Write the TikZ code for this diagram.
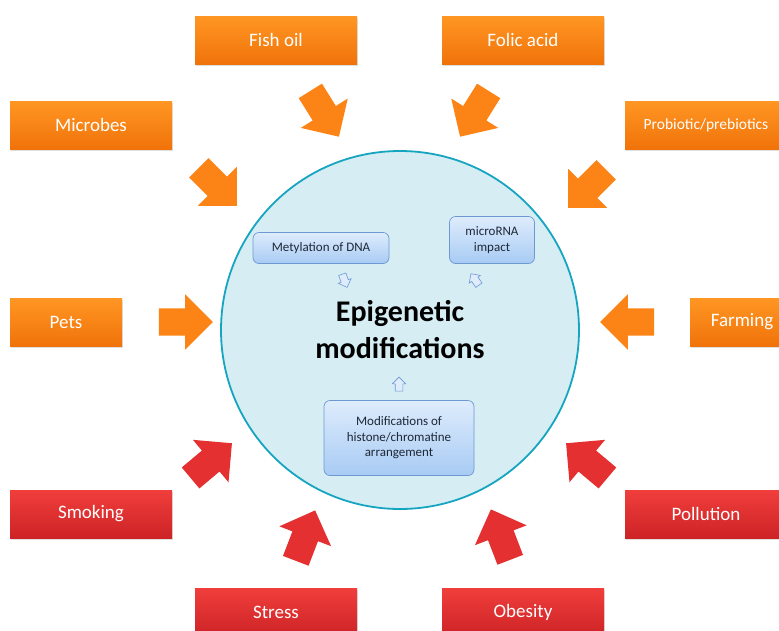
\documentclass[tikz,border=0pt]{standalone}
\usepackage{fontspec}
\setmainfont{Carlito}
\usetikzlibrary{shapes.arrows,shadows}
\definecolor{orangetop}{RGB}{255,150,35}
\definecolor{orangebot}{RGB}{240,115,10}
\definecolor{orangearr}{RGB}{252,132,22}
\definecolor{redtop}{RGB}{240,62,60}
\definecolor{redbot}{RGB}{205,35,38}
\definecolor{redarr}{RGB}{228,48,48}
\definecolor{cellfill}{RGB}{214,237,244}
\definecolor{cellline}{RGB}{22,165,192}
\definecolor{stagetop}{RGB}{222,236,252}
\definecolor{stagebot}{RGB}{168,203,244}
\definecolor{stageline}{RGB}{110,152,210}
\definecolor{stagetext}{RGB}{30,40,55}
\tikzset{
  factor/.style={minimum width=162pt, minimum height=48pt, inner sep=0pt, text=white,
    font=\fontsize{19}{23}\selectfont,
    drop shadow={opacity=0.25, shadow xshift=1pt, shadow yshift=-2pt}},
  good/.style={factor, top color=orangetop, bottom color=orangebot},
  bad/.style={factor, top color=redtop, bottom color=redbot},
  push/.style={single arrow, minimum height=54pt, inner sep=13.5pt, single arrow head extend=14pt},
  goodpush/.style={push, fill=orangearr},
  badpush/.style={push, fill=redarr},
  stage/.style={rounded corners=6pt, draw=stageline, line width=0.7pt, top color=stagetop,
    bottom color=stagebot, text=stagetext, align=center, inner sep=0pt,
    font=\fontsize{13}{15.5}\selectfont},
  nudge/.style={single arrow, draw=stageline, fill=stagetop, line width=0.6pt, minimum height=14pt,
    inner sep=3.5pt, single arrow head extend=3pt}
}
\begin{document}
\begin{tikzpicture}[x=1pt, y=-1pt]
  \useasboundingbox (0,0) rectangle (779,630);
  \node[circle, draw=cellline, line width=1.8pt, fill=cellfill, minimum size=358pt, align=center,
    font=\fontsize{30}{37}\selectfont\bfseries] (epi) at (400,330) {Epigenetic\\modifications};
  \node[stage, minimum width=136pt, minimum height=31pt] (methyl) at (321,248) {Metylation of DNA};
  \node[stage, minimum width=85pt, minimum height=47pt] (micro) at (492,240) {microRNA\\impact};
  \node[stage, minimum width=150pt, minimum height=75pt] (histone) at (399,438) {Modifications of\\histone/chromatine\\arrangement};
  \node[nudge, rotate=-70] (methylarr) at (344,279) {};
  \node[nudge, rotate=125] (microarr) at (476,281) {};
  \node[nudge, rotate=90] (histonearr) at (399,386) {};
  \node[good] (fishoil) at (276,40) {Fish oil};
  \node[good] (folic) at (523,40) {Folic acid};
  \node[good] (microbes) at (91,125) {Microbes};
  \node[good, font=\fontsize{15.5}{19}\selectfont] (probiotic) at (706,125) {Probiotic/prebiotics};
  \node[good, minimum width=112pt] (pets) at (66,322) {Pets};
  \node[good, minimum width=104pt] (farming) at (742,322) {Farming};
  \node[bad] (smoking) at (91,514) {Smoking};
  \node[bad] (pollution) at (706,514) {Pollution};
  \node[bad] (stress) at (276,612) {Stress};
  \node[bad] (obesity) at (523,612) {Obesity};
  \node[goodpush, rotate=-58] (fishoilarr) at (321,108) {};
  \node[goodpush, rotate=-122] (folicarr) at (478,108) {};
  \node[goodpush, rotate=-45] (microbesarr) at (213,182) {};
  \node[goodpush, rotate=-135] (probioticarr) at (592,184) {};
  \node[goodpush] (petsarr) at (179,322) {};
  \node[goodpush, rotate=180] (farmingarr) at (634,322) {};
  \node[badpush, rotate=40] (smokingarr) at (206,465) {};
  \node[badpush, rotate=140] (pollutionarr) at (592,465) {};
  \node[badpush, rotate=69] (stressarr) at (303,542) {};
  \node[badpush, rotate=111] (obesityarr) at (503,541) {};
\end{tikzpicture}
\end{document}
